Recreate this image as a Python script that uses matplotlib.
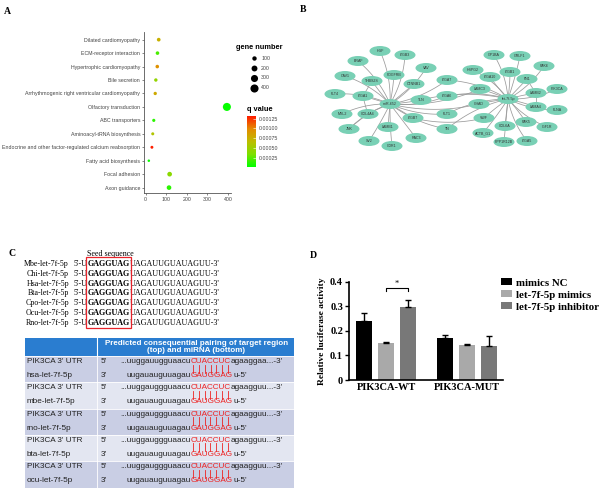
import numpy as np
import matplotlib
matplotlib.use("Agg")
import matplotlib.pyplot as plt
from matplotlib.patches import Ellipse, Rectangle
from matplotlib.colors import LinearSegmentedColormap, Normalize

W, H = 600, 494

# ---- panel A: KEGG enrichment ----
pathways = ["Dilated cardiomyopathy", "ECM-receptor interaction", "Hypertrophic cardiomyopathy",
            "Bile secretion", "Arrhythmogenic right ventricular cardiomyopathy", "Olfactory transduction",
            "ABC transporters", "Aminoacyl-tRNA biosynthesis",
            "Endocrine and other factor-regulated calcium reabsorption", "Fatty acid biosynthesis",
            "Focal adhesion", "Axon guidance"]
gene_number = [64, 58, 57, 50, 47, 395, 40, 35, 31, 16, 117, 114]
q_value = [0.00075, 0.0002, 0.00095, 0.00045, 0.0008, 0.00003, 0.00012, 0.0006, 0.0013, 0.00004, 0.0004, 0.00012]
size_legend = [100, 200, 300, 400]
q_ticks = [0.00025, 0.0005, 0.00075, 0.001, 0.00125]

# ---- panel B: miRNA-target network ----
mir652_targets = ["HGF", "ITGB3", "BRAF", "VAV", "CAV1", "PDGFRB", "THBS2S", "CTNNB1", "ITGA7", "FLT4",
                  "ITGA1", "TLN", "ITGA6", "MYL2", "COL4A4", "FLT1", "ITGB7", "CHAD", "JNK", "LAMB1",
                  "TN", "SV2", "RAC3", "CDR1", "LAMC3"]
let7_targets = ["GP1BA", "GRLF1", "PAK6", "HSPG2", "ITGB1", "ITGA10", "FN1", "LAMC3", "LAMB2", "PIK3CA",
                "CHAD", "LAMA4", "FLNA", "VWF", "PAK5", "COL6A", "IGF1R", "ACTB_G1", "PPP1R12B",
                "ITGA5", "ITGA7", "ITGA6", "TN", "FLT1", "TLN"]
other_edges = [("ITGA1", "COL4A4"), ("JNK", "COL4A4"), ("THBS2S", "ITGA1"), ("ITGB7", "VWF"),
               ("LAMB2", "FN1"), ("LAMA4", "LAMB2")]

# layout (pixel positions of nodes)
layout = {
    "HGF": (380, 51), "ITGB3": (405, 55), "BRAF": (358, 61), "VAV": (426, 68), "CAV1": (345, 76),
    "PDGFRB": (394, 75), "THBS2S": (372, 81), "CTNNB1": (414, 84), "ITGA7": (447, 80), "FLT4": (335, 94),
    "ITGA1": (363, 96), "miR-652": (390, 104), "TLN": (421, 100), "ITGA6": (447, 96), "MYL2": (342, 114),
    "COL4A4": (368, 114), "FLT1": (447, 114), "ITGB7": (413, 118), "CHAD": (479, 104), "JNK": (349, 129),
    "LAMB1": (388, 127), "TN": (447, 129), "SV2": (369, 141), "RAC3": (416, 138), "CDR1": (392, 146),
    "GP1BA": (494, 55), "GRLF1": (520, 56), "PAK6": (544, 66), "HSPG2": (473, 70), "ITGB1": (510, 72),
    "ITGA10": (490, 77), "FN1": (527, 79), "LAMC3": (480, 89), "LAMB2": (536, 93), "PIK3CA": (557, 89),
    "let-7f-5p": (508, 99), "LAMA4": (536, 107), "FLNA": (557, 110), "VWF": (484, 118), "PAK5": (526, 122),
    "COL6A": (505, 126), "IGF1R": (547, 127), "ACTB_G1": (483, 133), "PPP1R12B": (504, 142),
    "ITGA5": (527, 141),
}

# ---- panel C: seed sequences and pairing ----
species = ["Mbe", "Chi", "Hsa", "Bta", "Cpo", "Ocu", "Rno"]
seed_5p = "5'-U"
seed = "GAGGUAG"
seed_tail = "UAGAUUGUAUAGUU-3'"
pair_species = ["hsa", "mbe", "rno", "bta", "ocu"]
utr_left = ["...uuggauugguaacu", "...uuggauggguaacu", "...uuggauggguaacu", "...uuggauggguaacu", "...uuggauggguaacu"]
utr_site = "CUACCUC"
utr_right = ["agaaggaa...-3'", "agaagguu...-3'", "agaagguu...-3'", "agaagguu...-3'", "agaagguu...-3'"]
mir_left = "uugauauguuagau"
mir_site = "GAUGGAG"
mir_right = "u-5'"

# ---- panel D: luciferase assay ----
constructs = ["PIK3CA-WT", "PIK3CA-MUT"]
groups = ["mimics NC", "let-7f-5p mimics", "let-7f-5p inhibitor"]
luc_mean = [[0.241, 0.172], [0.151, 0.142], [0.297, 0.140]]
luc_err = [[0.030, 0.010], [0.005, 0.005], [0.030, 0.038]]
bar_colors = ["#000000", "#a9a9a9", "#787878"]


def box(l, t, r, b):
    return [l / W, 1 - b / H, (r - l) / W, (b - t) / H]


fig = plt.figure(figsize=(6, 4.94), dpi=100)
fig.patch.set_facecolor("white")

# canvas axes in pixel coordinates for the network, table and labels
cv = fig.add_axes([0, 0, 1, 1])
cv.set_xlim(0, W)
cv.set_ylim(H, 0)
cv.axis("off")

serif = "Liberation Serif"
sans = "Liberation Sans"


def chain(x, y, parts, **kw):
    # write text pieces one after another on the same line
    out = []
    first = True
    for s, extra in parts:
        opts = dict(kw)
        opts.update(extra)
        if first:
            t = cv.text(x, y, s, ha="left", va="center", **opts)
            first = False
        else:
            t = cv.annotate(s, xy=(1, 0.5), xycoords=out[-1], ha="left", va="center", **opts)
        out.append(t)
    return out


for lab, x, y in [("A", 7, 11), ("B", 303, 10), ("C", 12, 253), ("D", 313, 255)]:
    cv.text(x, y, lab, family=serif, weight="bold", fontsize=7, ha="center", va="center")

# ---------- A ----------
qcmap = LinearSegmentedColormap.from_list("q", ["#00ff00", "#7ee000", "#bdbd00", "#e48a00", "#ff1a00"])
qnorm = Normalize(0.00001, 0.00132)

axA = fig.add_axes(box(144.3, 32, 231, 193))
ypos = np.arange(len(pathways))[::-1] + 1
sizes = [0.08 * g + 2 for g in gene_number]
axA.scatter(gene_number, ypos, s=sizes, c=q_value, cmap=qcmap, norm=qnorm, linewidths=0, zorder=3)
axA.set_yticks(ypos)
axA.set_yticklabels(pathways, family=sans, fontsize=3.8, color="#444444")
axA.set_xticks([0, 100, 200, 300, 400])
axA.set_xticklabels(["0", "100", "200", "300", "400"], family=sans, fontsize=3.8, color="#444444")
axA.set_xlim(-6, 415)
axA.set_ylim(0.6, 12.57)
for s in ["top", "right"]:
    axA.spines[s].set_visible(False)
for s in ["left", "bottom"]:
    axA.spines[s].set_color("#555555")
    axA.spines[s].set_linewidth(0.6)
axA.tick_params(length=1.5, width=0.5, color="#555555", pad=1.5)

handles = [plt.scatter([], [], s=0.08 * v + 2, color="black", linewidths=0) for v in size_legend]
leg = fig.legend(handles, [str(v) for v in size_legend], title="gene number", loc="upper left",
                 bbox_to_anchor=(235 / W, 1 - 43 / H), frameon=False, fontsize=3.8,
                 labelspacing=0.9, handletextpad=0.4, borderpad=0.2, borderaxespad=0,
                 title_fontproperties={"family": sans, "weight": "bold", "size": 5.3})
for t in leg.get_texts():
    t.set_family(sans)
    t.set_color("#444444")

cax = fig.add_axes(box(247, 116, 256, 167))
cb = fig.colorbar(plt.cm.ScalarMappable(norm=qnorm, cmap=qcmap), cax=cax, ticks=q_ticks)
cb.outline.set_visible(False)
cb.ax.set_yticklabels(["%.5f" % t for t in q_ticks], family=sans, fontsize=3.8, color="#444444")
cb.ax.tick_params(length=2, width=0.4, color="white", direction="in", pad=2)
cv.text(247, 109, "q value", family=sans, weight="bold", fontsize=5.3, ha="left", va="center")

# ---------- B ----------
def curve(p, q, bend):
    (x0, y0), (x1, y1) = p, q
    mx, my = (x0 + x1) / 2, (y0 + y1) / 2
    dx, dy = x1 - x0, y1 - y0
    cx, cy = mx - dy * bend, my + dx * bend
    t = np.linspace(0, 1, 30)
    xs = (1 - t) ** 2 * x0 + 2 * (1 - t) * t * cx + t ** 2 * x1
    ys = (1 - t) ** 2 * y0 + 2 * (1 - t) * t * cy + t ** 2 * y1
    return xs, ys

edges = [("miR-652", n) for n in mir652_targets] + [("let-7f-5p", n) for n in let7_targets] + other_edges
for i, (a, b) in enumerate(edges):
    pa, pb = layout[a], layout[b]
    dist = np.hypot(pb[0] - pa[0], pb[1] - pa[1])
    bend = 0.12 if dist > 45 else 0.03 * ((i % 3) - 1)
    xs, ys = curve(pa, pb, bend)
    cv.plot(xs, ys, color="#9a9a9a", lw=0.55, zorder=1)

for name, (x, y) in layout.items():
    cv.add_patch(Ellipse((x, y), 21, 10, facecolor="#79d0b5", edgecolor="none", zorder=2))
    cv.text(x, y, name, family=sans, fontsize=2.6, color="#333333", ha="center", va="center", zorder=3)

# ---------- C ----------
cv.text(110, 254, "Seed sequence", family=serif, fontsize=5.8, ha="center", va="center")
row_y = np.linspace(264, 322.7, len(species))
seed_texts = []
for sp, y in zip(species, row_y):
    cv.text(69, y, sp + "-let-7f-5p", family=serif, fontsize=5.7, ha="right", va="center")
    parts = chain(73.3, y, [(seed_5p, {}), (seed, {"weight": "bold"}), (seed_tail, {})],
                  family=serif, fontsize=5.8)
    seed_texts.append(parts[1])

# table
tl, tr, col = 25, 294, 96.7
cv.add_patch(Rectangle((tl, 337.7), tr - tl, 18.3, facecolor="#2a7dd0", edgecolor="none"))
cv.plot([col, col], [337.7, 356], color="white", lw=0.8)
cv.text((col + tr) / 2 + 1, 343.3, "Predicted consequential pairing of target region", family=sans,
        weight="bold", fontsize=5.8, color="white", ha="center", va="center")
cv.text((col + tr) / 2 + 1, 350.9, "(top) and miRNA (bottom)", family=sans,
        weight="bold", fontsize=5.8, color="white", ha="center", va="center")
gtop = 356
gh = 26.3
pair_sites = []
fs = 5.9
for k, sp in enumerate(pair_species):
    top = gtop + k * gh
    cv.add_patch(Rectangle((tl, top), tr - tl, gh, facecolor="#c9cee4" if k % 2 == 0 else "#e3e6f1",
                           edgecolor="none", zorder=0))
    cv.plot([tl, tr], [top, top], color="white", lw=0.6, zorder=1)
    cv.plot([col, col], [top, top + gh], color="white", lw=0.6, zorder=1)
    y1, y2 = top + 5.5, top + 19.5
    cv.text(26.7, y1, "PIK3CA 3' UTR", family=sans, fontsize=fs, color="#222222", va="center")
    cv.text(26.7, y2, sp + "-let-7f-5p", family=sans, fontsize=fs, color="#222222", va="center")
    cv.text(101, y1, "5'", family=sans, fontsize=fs, color="#222222", va="center")
    cv.text(101, y2, "3'", family=sans, fontsize=fs, color="#222222", va="center")
    red = {"color": "#ee2222"}
    topline = chain(120, y1, [(utr_left[k], {}), (utr_site, red), (utr_right[k], {})],
                    family=sans, fontsize=fs, color="#222222")
    botline = chain(126.7, y2, [(mir_left, {}), (mir_site, red), (mir_right, {})],
                    family=sans, fontsize=fs, color="#222222")
    pair_sites.append((topline[1], top))

# ---------- D ----------
axD = fig.add_axes(box(349.3, 281.7, 503, 380))
xc = np.arange(len(constructs))
for g, (name, m, e, c) in enumerate(zip(groups, luc_mean, luc_err, bar_colors)):
    xs = xc + (g - 1) * 0.27
    axD.bar(xs, m, width=0.2, color=c, label=name, zorder=2)
    axD.errorbar(xs, m, yerr=[np.zeros(len(e)), e], fmt="none", ecolor="black", elinewidth=1.0,
                 capsize=2.2, capthick=1.0, zorder=3)
axD.set_xlim(-0.453, 1.444)
axD.set_ylim(0, 0.4)
axD.set_yticks([0, 0.1, 0.2, 0.3, 0.4])
axD.set_yticklabels(["0", "0.1", "0.2", "0.3", "0.4"], family=serif, weight="bold", fontsize=7.5)
axD.set_xticks(xc)
axD.set_xticklabels(constructs, family=serif, weight="bold", fontsize=7.5)
axD.set_ylabel("Relative luciferase activity", family=serif, weight="bold", fontsize=6.8, labelpad=3)
for s in ["top", "right"]:
    axD.spines[s].set_visible(False)
for s in ["left", "bottom"]:
    axD.spines[s].set_linewidth(1.2)
axD.tick_params(axis="y", length=3, width=1.0, pad=1.5)
axD.tick_params(axis="x", length=0, pad=2)
# significance bracket between mimics and inhibitor on WT
bx0, bx1 = xc[0], xc[0] + 0.27
yb = 0.373
axD.plot([bx0, bx0, bx1, bx1], [yb - 0.01, yb, yb, yb - 0.01], color="black", lw=0.8, clip_on=False)
axD.text((bx0 + bx1) / 2, yb + 0.003, "*", ha="center", va="bottom", fontsize=6, family=serif)
axD.legend(loc="upper left", bbox_to_anchor=(497 / W, 1 - 274 / H), bbox_transform=fig.transFigure,
           frameon=False, prop={"family": serif, "weight": "bold", "size": 7.8},
           handlelength=1.0, handleheight=0.6, labelspacing=0.25, handletextpad=0.4, borderaxespad=0)

# red seed box and pairing bars need the rendered text extents
fig.canvas.draw()
inv = cv.transData.inverted()
r = fig.canvas.get_renderer()
b0 = inv.transform(seed_texts[0].get_window_extent(r))
x0, x1 = b0[0][0] - 1, b0[1][0] + 1
cv.add_patch(Rectangle((x0, 256.7), x1 - x0, 71.6, fill=False, edgecolor="#e8232a", lw=0.9, zorder=3))
for t, top in pair_sites:
    bb = inv.transform(t.get_window_extent(r))
    left, right = bb[0][0], bb[1][0]
    step = (right - left) / len(utr_site)
    for j in range(len(utr_site)):
        x = left + step * (j + 0.5)
        cv.plot([x, x], [top + 8.5, top + 16.5], color="#ee2222", lw=0.6)

fig.savefig("out.png", dpi=100, facecolor="white")
